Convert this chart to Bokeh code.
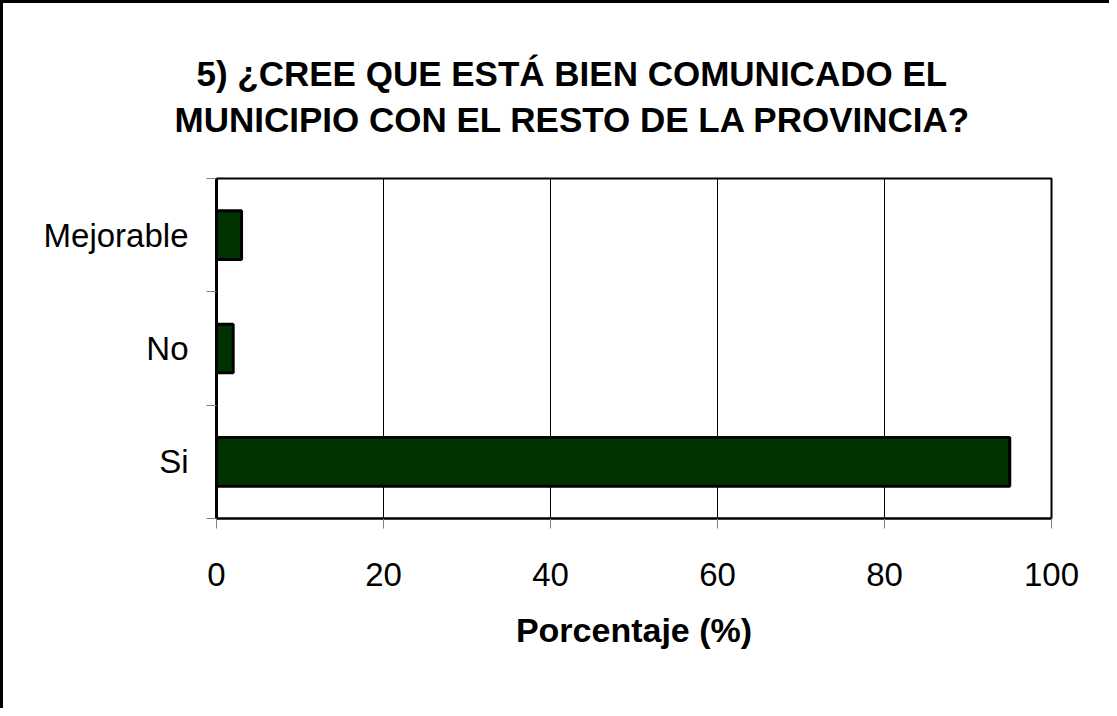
from bokeh.plotting import figure
from bokeh.models import FixedTicker, Title, Range1d
from bokeh.embed import file_html
from bokeh.resources import INLINE

categories = ["Si", "No", "Mejorable"]
values = [95, 2, 3]
x_ticks = [0, 20, 40, 60, 80, 100]
title_lines = ["5) ¿CREE QUE ESTÁ BIEN COMUNICADO EL",
               "MUNICIPIO CON EL RESTO DE LA PROVINCIA?"]
x_label = "Porcentaje (%)"

FONT = "Liberation Sans"
centers = [i + 0.5 for i in range(len(categories))]
bounds = list(range(len(categories) + 1))

p = figure(width=1109, height=708, output_backend="svg", toolbar_location=None,
           x_range=Range1d(0, 100), y_range=Range1d(0, len(categories)),
           min_border_left=216, min_border_right=58,
           min_border_top=178, min_border_bottom=190)

p.hbar(y=centers, left=0, right=values, height=0.43,
       fill_color="#003300", line_color="black", line_width=3)

# grid
p.xgrid.ticker = FixedTicker(ticks=x_ticks)
p.xgrid.grid_line_color = "black"
p.xgrid.grid_line_width = 1
p.ygrid.visible = False

# x axis
xa = p.xaxis[0]
xa.ticker = FixedTicker(ticks=x_ticks)
xa.major_tick_out = 10
xa.major_tick_in = 0
xa.major_tick_line_color = "#808080"
xa.minor_tick_line_color = None
xa.axis_line_width = 2
xa.major_label_text_font = FONT
xa.major_label_text_font_size = "33px"
xa.major_label_text_color = "black"
xa.major_label_standoff = 34
xa.axis_label = x_label
xa.axis_label_text_font = FONT
xa.axis_label_text_font_style = "bold"
xa.axis_label_text_font_size = "34px"
xa.axis_label_text_color = "black"
xa.axis_label_standoff = 22

# y axis
ya = p.yaxis[0]
ya.ticker = FixedTicker(ticks=centers, minor_ticks=bounds)
ya.major_label_overrides = {c: cat for c, cat in zip(centers, categories)}
ya.major_tick_line_color = None
ya.major_tick_out = 0
ya.major_tick_in = 0
ya.minor_tick_out = 10
ya.minor_tick_in = 0
ya.minor_tick_line_color = "#808080"
ya.axis_line_width = 3
ya.major_label_text_font = FONT
ya.major_label_text_font_size = "33px"
ya.major_label_text_color = "black"
ya.major_label_standoff = 18

p.outline_line_color = "black"
p.outline_line_width = 2
p.background_fill_color = "white"
p.border_fill_color = None
p.styles = {"box-shadow": "inset 3px 3px 0 0 #000"}

# spacer between the frame and the title block
p.add_layout(Title(text=" ", text_font_size="30px", standoff=3), "above")

# title as two lines (second line added first: it sits closer to the frame)
title_offsets = [-20, -42]
title_standoffs = [5, 4]
for off, so, line in reversed(list(zip(title_offsets, title_standoffs, title_lines))):
    p.add_layout(Title(text=line, align="left", offset=off, text_font=FONT,
                       text_font_style="bold", text_font_size="35px",
                       text_color="black", standoff=so), "above")

open("out.html", "w").write(file_html(p, INLINE))
